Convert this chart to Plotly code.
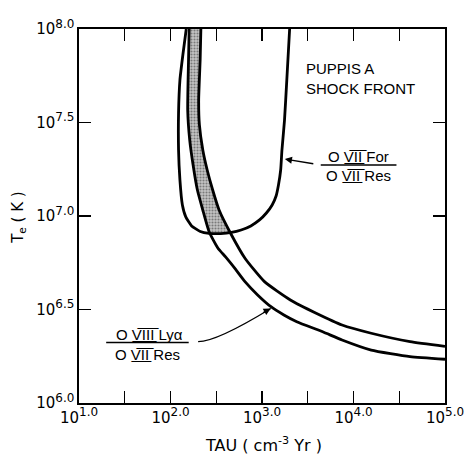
import numpy as np
import plotly.graph_objects as go

# ---- data (log10 values) ----
x_tick_exps = [1.0, 1.5, 2.0, 2.5, 3.0, 3.5, 4.0, 4.5, 5.0]
y_tick_exps = [6.0, 6.5, 7.0, 7.5, 8.0]

# O VII Forbidden / O VII Resonance ratio curve (U shape)
for_res_log_tau = [2.172, 2.135, 2.103, 2.088, 2.088, 2.103, 2.130, 2.167, 2.231,
                   2.326, 2.422, 2.549, 2.666, 2.772, 2.878, 2.973, 3.048, 3.111,
                   3.154, 3.180, 3.204, 3.218, 3.246, 3.271, 3.302]
for_res_log_te = [8.000, 7.861, 7.727, 7.551, 7.353, 7.193, 7.059, 6.995, 6.947,
                  6.917, 6.907, 6.906, 6.912, 6.925, 6.947, 6.979, 7.016, 7.059,
                  7.107, 7.166, 7.246, 7.353, 7.513, 7.727, 8.000]

# O VIII Ly-alpha / O VII Resonance: lower bound curve
lya_low_log_tau = [2.204, 2.197, 2.188, 2.210, 2.247, 2.294, 2.353, 2.422, 2.517,
                   2.602, 2.708, 2.814, 2.952, 3.098, 3.239, 3.380, 3.663, 3.875,
                   4.194, 4.618, 5.000]
lya_low_log_te = [8.000, 7.834, 7.567, 7.406, 7.273, 7.139, 7.032, 6.916, 6.829,
                  6.781, 6.717, 6.649, 6.578, 6.515, 6.471, 6.435, 6.381, 6.337,
                  6.283, 6.248, 6.234]

# O VIII Ly-alpha / O VII Resonance: upper bound curve
lya_high_log_tau = [2.332, 2.324, 2.308, 2.316, 2.353, 2.401, 2.461, 2.531, 2.655,
                    2.814, 3.027, 3.310, 3.592, 3.875, 4.194, 4.618, 5.000]
lya_high_log_te = [8.000, 7.834, 7.620, 7.487, 7.353, 7.246, 7.139, 7.032, 6.909,
                   6.774, 6.649, 6.551, 6.480, 6.417, 6.373, 6.328, 6.303]


def lin(a):
    return np.power(10.0, np.asarray(a, dtype=float))


def seg_cross(p1, p2, q1, q2):
    d = (p2[0] - p1[0]) * (q2[1] - q1[1]) - (p2[1] - p1[1]) * (q2[0] - q1[0])
    if abs(d) < 1e-12:
        return None
    t = ((q1[0] - p1[0]) * (q2[1] - q1[1]) - (q1[1] - p1[1]) * (q2[0] - q1[0])) / d
    u = ((q1[0] - p1[0]) * (p2[1] - p1[1]) - (q1[1] - p1[1]) * (p2[0] - p1[0])) / d
    if 0 <= t <= 1 and 0 <= u <= 1:
        return t
    return None


def first_cross(P, Q):
    for i in range(len(P) - 1):
        for j in range(len(Q) - 1):
            t = seg_cross(P[i], P[i + 1], Q[j], Q[j + 1])
            if t is not None:
                return i, j, P[i] + t * (P[i + 1] - P[i])
    return None


A = np.column_stack([for_res_log_tau, for_res_log_te])
LO = np.column_stack([lya_low_log_tau, lya_low_log_te])
HI = np.column_stack([lya_high_log_tau, lya_high_log_te])

i1, j1, c1 = first_cross(LO, A)
i2, j2, c2 = first_cross(HI, A)
poly = list(LO[:i1 + 1]) + [c1] + list(A[j1 + 1:j2 + 1]) + [c2] + list(HI[:i2 + 1][::-1])
poly = np.array(poly)

fig = go.Figure()

fig.add_trace(go.Scatter(
    x=lin(poly[:, 0]), y=lin(poly[:, 1]), mode="lines", fill="toself",
    line=dict(width=0, color="rgba(0,0,0,0)"),
    fillcolor="#999999",
    fillpattern=dict(shape=".", fgcolor="#303030", bgcolor="#c4c4c4", size=3, solidity=0.4),
    hoverinfo="skip", showlegend=False))

for xs, ys in [(for_res_log_tau, for_res_log_te),
               (lya_low_log_tau, lya_low_log_te),
               (lya_high_log_tau, lya_high_log_te)]:
    fig.add_trace(go.Scatter(
        x=lin(xs), y=lin(ys), mode="lines",
        line=dict(color="black", width=2.8, shape="spline", smoothing=0.5),
        showlegend=False, hoverinfo="skip"))

FONT = "Liberation Sans, Arial, sans-serif"
DFONT = "DejaVu Sans, sans-serif"


def fmt(e, label=True):
    return "10<sup><span style='font-size:12px'>%.1f</span></sup>" % e if label else ""


axis_common = dict(
    type="log", showgrid=False, zeroline=False,
    showline=True, linecolor="black", linewidth=1.6, mirror="ticks",
    ticks="inside", ticklen=12, tickwidth=1.3, tickcolor="black",
    tickfont=dict(family=DFONT, size=15, color="black"),
)

fig.update_xaxes(
    range=[1.0, 5.0],
    tickmode="array",
    tickvals=list(lin(x_tick_exps)),
    ticktext=[fmt(e, float(e).is_integer()) for e in x_tick_exps],
    **axis_common)
fig.update_yaxes(
    range=[6.0, 8.0],
    tickmode="array",
    tickvals=list(lin(y_tick_exps)),
    ticktext=[fmt(e) for e in y_tick_exps],
    **axis_common)

W, H = 476, 455
# plot area on screen
SL, ST, SR, SB = 79, 29, 456, 403
L, T = SL, ST
PW, PH = SR - SL, SB - ST
R = W - L - PW
B = H - T - PH


def px(x):
    return (x - SL) / PW


def py(y):
    return (SB - y) / PH


roman7 = "".join(c + "\u0305\u0332" for c in "VII")
roman8 = "".join(c + "\u0305\u0332" for c in "VIII")

tf = dict(family=FONT, size=15, color="black")

ann = []
ann.append(dict(x=px(311), y=py(78.5), xref="paper", yref="paper", xanchor="left",
                yanchor="middle", align="left", showarrow=False,
                text="PUPPIS A<br>SHOCK FRONT", font=tf))
for txt, xx, yy in [("O " + roman7 + " For", 367, 156),
                    ("O " + roman7 + " Res", 367, 175),
                    ("O " + roman8 + " Ly\u03b1", 152, 334),
                    ("O " + roman7 + " Res", 150, 354)]:
    ann.append(dict(x=px(xx), y=py(yy), xref="paper", yref="paper", xanchor="center",
                    yanchor="middle", showarrow=False, text=txt, font=tf))
# arrow to O VII For/Res curve
ann.append(dict(x=px(291), y=py(159), xref="paper", yref="paper", ax=30, ay=5,
                text="", showarrow=True, arrowhead=2, arrowsize=1.1, arrowwidth=1.3,
                arrowcolor="black", standoff=0))
# arrowhead for curved arrow to O VIII / O VII curve
ann.append(dict(x=px(276.5), y=py(308.5), xref="paper", yref="paper", ax=-9, ay=5,
                text="", showarrow=True, arrowhead=2, arrowsize=1.1, arrowwidth=1.3,
                arrowcolor="black", standoff=0))
# axis titles
ann.append(dict(x=px(16), y=py(217), xref="paper", yref="paper", showarrow=False,
                xanchor="center", yanchor="middle",
                textangle=-90, text="T<sub>e</sub> ( K )",
                font=dict(family=DFONT, size=15, color="black")))
ann.append(dict(x=px(269), y=py(444), xref="paper", yref="paper", showarrow=False,
                xanchor="center", yanchor="middle",
                text="TAU ( cm<sup>-3</sup> Yr )",
                font=dict(family=DFONT, size=16, color="black")))

shapes = [
    dict(type="line", xref="paper", yref="paper", x0=px(328), x1=px(406), y0=py(165), y1=py(165),
         line=dict(color="black", width=1.3)),
    dict(type="line", xref="paper", yref="paper", x0=px(107), x1=px(192), y0=py(342.5), y1=py(342.5),
         line=dict(color="black", width=1.3)),
    dict(type="path", xref="paper", yref="paper",
         path="M %.4f,%.4f Q %.4f,%.4f %.4f,%.4f" % (px(201.7), py(341.7), px(221), py(341.5),
                                                   px(276.5), py(308.5)),
         line=dict(color="black", width=1.3)),
]

fig.update_layout(
    width=W, height=H,
    margin=dict(l=L, r=R, t=T, b=B),
    paper_bgcolor="white", plot_bgcolor="white",
    showlegend=False,
    annotations=ann, shapes=shapes,
    font=dict(family=FONT, color="black"),
)

fig.write_html("out.html",
               config={"displayModeBar": False, "staticPlot": True},
               post_script="document.body.style.margin='0';document.body.style.overflow='hidden';")
